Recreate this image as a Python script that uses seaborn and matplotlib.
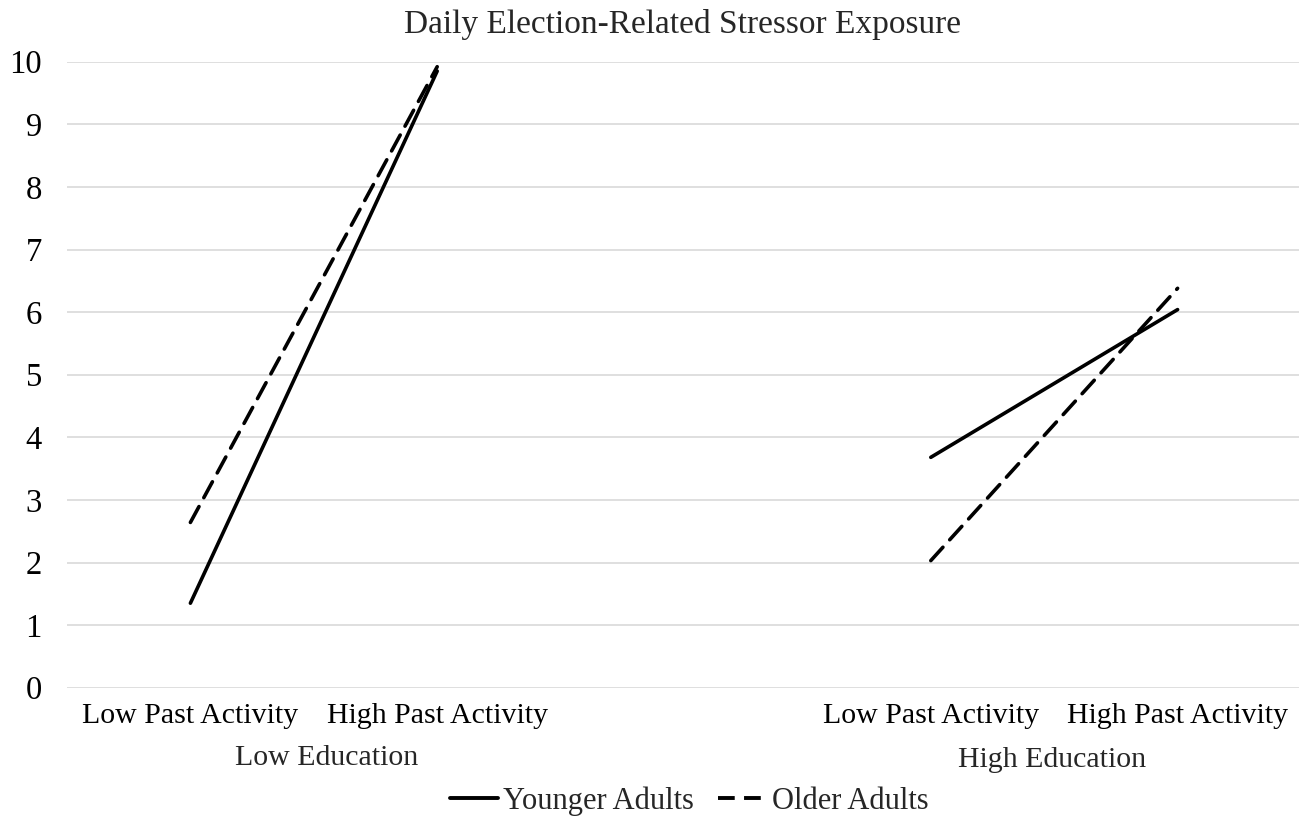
import matplotlib
matplotlib.use("Agg")
import matplotlib.pyplot as plt
import seaborn as sns
import pandas as pd
from matplotlib.lines import Line2D

title = "Daily Election-Related Stressor Exposure"
groups = ["Low Education", "High Education"]
activity = ["Low Past Activity", "High Past Activity"]
series = ["Younger Adults", "Older Adults"]
younger = [1.35, 9.85, 3.68, 6.04]
older = [2.64, 9.92, 2.03, 6.38]
y_ticks = list(range(0, 11))

# category positions: slot 2 is an empty gap between groups
xpos = [0, 1, 3, 4]
rows = []
for name, vals in zip(series, [younger, older]):
    for i, v in enumerate(vals):
        rows.append({"series": name, "group": groups[i // 2],
                     "activity": activity[i % 2], "x": xpos[i], "y": v})
df = pd.DataFrame(rows)

sns.set_theme(style="white")
plt.rcParams["font.family"] = ["Liberation Serif", "DejaVu Serif"]

fig = plt.figure(figsize=(12.99, 8.17), dpi=100)
ax = fig.add_axes([67 / 1299, 1 - 687.7 / 817, 1234 / 1299, (687.7 - 61.7) / 817])

sns.lineplot(data=df, x="x", y="y", hue="series", style="series", units="group",
             estimator=None, palette={"Younger Adults": "black", "Older Adults": "black"},
             dashes={"Younger Adults": "", "Older Adults": (5, 2.8)},
             linewidth=2.6, ax=ax, legend=False, sort=False)
for l in ax.lines:
    l.set_solid_capstyle("round")
    l.set_dash_capstyle("round")

ax.set_xlim(-0.5, 4.5)
ax.set_ylim(0, 10)
ax.set_yticks(y_ticks)
ax.set_yticklabels([str(t) for t in y_ticks], fontsize=23.5)
ax.yaxis.grid(True, color="#d9d9d9", linewidth=1.2)
ax.xaxis.grid(False)
for s in ax.spines.values():
    s.set_visible(False)
ax.tick_params(axis="y", length=0, pad=18, labelcolor="black")
ax.set_xticks(xpos)
ax.set_xticklabels(activity * 2, fontsize=21.5)
ax.tick_params(axis="x", length=0, pad=11, labelcolor="black")
ax.set_xlabel("")
ax.set_ylabel("")

# group labels
fig.text(327 / 1299, 1 - 758 / 817, groups[0], ha="center", va="center", fontsize=21.5)
fig.text(1052 / 1299, 1 - 760 / 817, groups[1], ha="center", va="center", fontsize=21.5)

fig.text(682 / 1299, 1 - 24 / 817, title, ha="center", va="center", fontsize=24)

handles = [Line2D([], [], color="black", lw=2.8),
           Line2D([], [], color="black", lw=2.8, dashes=(4.3, 2.4))]
fig.legend(handles, series, loc="center", bbox_to_anchor=(689 / 1299, 1 - 801 / 817),
           ncol=2, frameon=False, fontsize=22, handlelength=1.6, handletextpad=0.15,
           columnspacing=0.8)

fig.savefig("out.png", dpi=100)
